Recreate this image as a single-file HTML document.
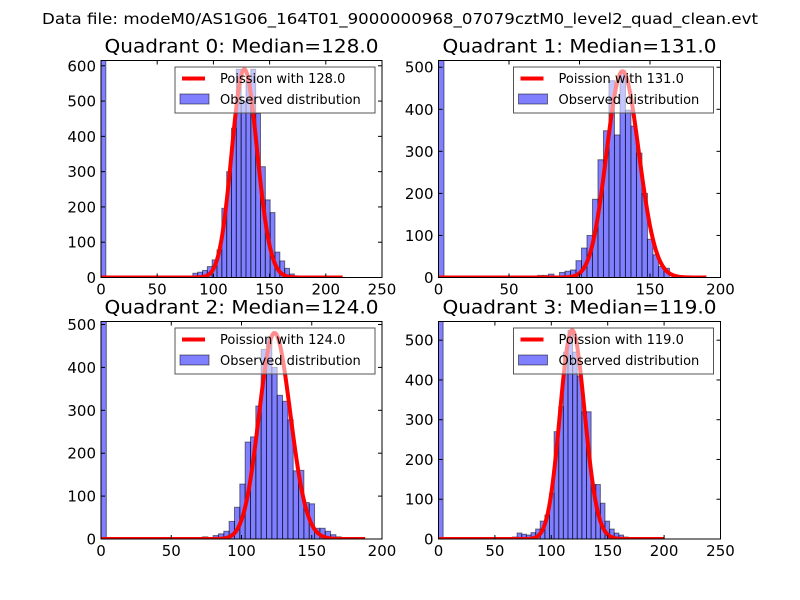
<!DOCTYPE html>
<html><head><meta charset="utf-8"><style>
html,body{margin:0;padding:0;background:#fff;}
svg{display:block;font-family:"DejaVu Sans","Liberation Sans",sans-serif;}
</style></head><body>
<svg id="fig" width="800" height="600" viewBox="0 0 800 600">
<rect width="800" height="600" fill="#fff"/>
<text x="400" y="24" font-size="15" text-anchor="middle" textLength="716" lengthAdjust="spacingAndGlyphs">Data file: modeM0/AS1G06_164T01_9000000968_07079cztM0_level2_quad_clean.evt</text>
</svg>
<script>
// Panel data (histogram values per bin, bins start at 0 with given width)
const medians=[128.0,131.0,124.0,119.0];
const binWidths=[4.3,3.9,3.8,4.1];
const xMaxes=[250,200,200,250];
const yMaxes=[615,516,507,547];
const xTicks0=[0,50,100,150,200,250];
const xTicks1=[0,50,100,150,200];
const xTicks2=[0,50,100,150,200];
const xTicks3=[0,50,100,150,200,250];
const yTicks0=[0,100,200,300,400,500,600];
const yTicks1=[0,100,200,300,400,500];
const yTicks2=[0,100,200,300,400,500];
const yTicks3=[0,100,200,300,400,500];
const hist0=[700,0,0,0,0,0,0,0,0,0,0,0,0,0,0,0,0,0,0,12,15,20,31,50,78,196,300,423,590,500,560,590,465,314,220,184,72,47,26,10,3];
const hist1=[700,0,0,0,0,0,0,0,0,0,0,0,0,0,0,0,0,0,5,5,8,0,12,15,18,40,70,100,186,280,349,468,339,492,398,360,296,200,91,54,26,22];
const hist2=[700,0,0,0,0,0,0,0,0,0,0,0,0,0,0,0,0,0,0,5,3,8,12,18,41,74,128,226,238,310,442,467,400,335,321,278,159,160,85,82,25,25,18,10,5];
const hist3=[700,0,0,0,0,0,0,0,0,0,0,0,0,0,0,3,5,15,12,10,16,25,45,60,115,270,333,470,525,470,410,320,320,137,137,90,45,25,15,10,5];
const curvePeaks=[590,490,480,525];
const curveEnds=[215,190,188,200];

const hists=[hist0,hist1,hist2,hist3];
const xTicks=[xTicks0,xTicks1,xTicks2,xTicks3];
const yTicks=[yTicks0,yTicks1,yTicks2,yTicks3];
const boxes=[[101,60.5,382,277.5],[438.5,60.5,720.5,277.5],[101,321.5,382,539],[438.5,321.5,720.5,539]];
const NS='http://www.w3.org/2000/svg';
const svg=document.getElementById('fig');
function mk(tag,attrs,parent){const e=document.createElementNS(NS,tag);for(const k in attrs)e.setAttribute(k,attrs[k]);(parent||svg).appendChild(e);return e;}
function logPmf(k,l){let s=0;for(let i=2;i<=k;i++)s+=Math.log(i);return k*Math.log(l)-l-s;}

for(let p=0;p<4;p++){
  const [L,T,R,B]=boxes[p];
  const xs=v=>L+(v/xMaxes[p])*(R-L);
  const ys=v=>B-(v/yMaxes[p])*(B-T);
  const g=mk('g',{});
  
  
  const cid='clip'+p;
  const cp=mk('clipPath',{id:cid},g);mk('rect',{x:L,y:T,width:R-L,height:B-T},cp);
  const plot=mk('g',{'clip-path':'url(#'+cid+')'},g);
  // bars
  const h=hists[p];const w=binWidths[p];
  for(let i=0;i<h.length;i++){
    if(h[i]<=0)continue;
    const r=mk('rect',{x:xs(i*w),y:ys(h[i]),width:xs(w)-xs(0),height:ys(0)-ys(h[i]),fill:'rgba(0,0,255,0.5)',stroke:'rgba(0,0,0,0.5)','stroke-width':1},plot);
    
    
  }
  // Poisson curve
  const lam=medians[p];const mode=Math.floor(lam);const lp=logPmf(mode,lam);
  let d='';
  for(let k=0;k<=curveEnds[p];k++){
    const v=curvePeaks[p]*Math.exp(logPmf(k,lam)-lp);
    d+=(k?'L':'M')+xs(k).toFixed(2)+','+ys(v).toFixed(2);
  }
  const line=mk('path',{d:d,fill:'none',stroke:'#ff0000','stroke-width':4,'stroke-linejoin':'round'},plot);
  
  
  // frame
  mk('rect',{x:L,y:T,width:R-L,height:B-T,fill:'none',stroke:'#000','stroke-width':1},g);
  // ticks
  xTicks[p].forEach(t=>{
    const x=xs(t);
    mk('line',{x1:x,y1:B,x2:x,y2:B-4,stroke:'#000'},g);
    mk('line',{x1:x,y1:T,x2:x,y2:T+4,stroke:'#000'},g);
    const tx=mk('text',{x:x,y:B+17,'font-size':15,'text-anchor':'middle'},g);tx.textContent=t;
    
    
  });
  yTicks[p].forEach(t=>{
    const y=ys(t);
    mk('line',{x1:L,y1:y,x2:L+4,y2:y,stroke:'#000'},g);
    mk('line',{x1:R,y1:y,x2:R-4,y2:y,stroke:'#000'},g);
    const tx=mk('text',{x:L-5,y:y+5.5,'font-size':15,'text-anchor':'end'},g);tx.textContent=t;
    
    
  });
  // title
  const ti=mk('text',{x:(L+R)/2,y:T-8,'font-size':19,'text-anchor':'middle',textLength:274,lengthAdjust:'spacingAndGlyphs'},g);
  ti.textContent='Quadrant '+p+': Median='+medians[p].toFixed(1);
  
  
  // legend
  const lx=R-207,ly=T+6.5;
  const lg=mk('g',{},g);
  
  
  mk('rect',{x:lx,y:ly,width:200,height:46,fill:'rgba(255,255,255,0.55)',stroke:'#555','stroke-width':1},lg);
  mk('line',{x1:lx+7,y1:ly+11.5,x2:lx+30,y2:ly+11.5,stroke:'#ff0000','stroke-width':4},lg);
  mk('rect',{x:lx+5,y:ly+27,width:29,height:10,fill:'rgba(0,0,255,0.5)',stroke:'rgba(0,0,0,0.5)'},lg);
  const t1=mk('text',{x:lx+45,y:ly+16,'font-size':13},lg);t1.textContent='Poission with '+medians[p].toFixed(1);
  
  
  const t2=mk('text',{x:lx+45,y:ly+37,'font-size':13},lg);t2.textContent='Observed distribution';
  
  
}
</script>
</body></html>
